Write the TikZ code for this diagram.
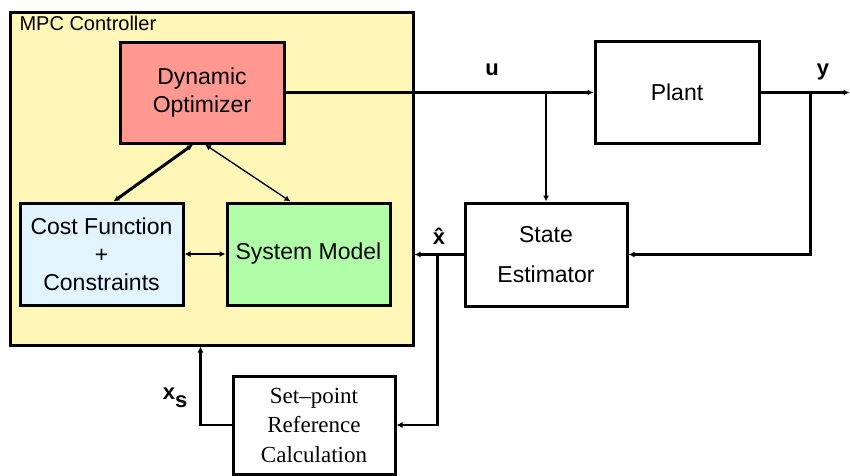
\documentclass[tikz,border=0pt]{standalone}
\usepackage{fontspec}
\setmainfont{Liberation Sans}
\newfontfamily\serifblock[Ligatures=TeX]{Liberation Serif}
\usetikzlibrary{arrows.meta,positioning,calc}
\definecolor{mpcYellow}{RGB}{255,247,184}
\definecolor{optRed}{RGB}{255,152,144}
\definecolor{costBlue}{RGB}{225,244,255}
\definecolor{modelGreen}{RGB}{176,255,168}

\begin{document}
\begin{tikzpicture}[x=1pt, y=-1pt,
    box/.style={rectangle, draw=black, line width=3pt, minimum width=163pt, minimum height=102pt, align=center, inner sep=0pt, font=\fontsize{23}{28}\selectfont},
    arrow/.style={-{Latex[length=6pt,width=6pt]}, line width=2.8pt},
    both/.style={{Latex[length=6pt,width=6pt]}-{Latex[length=6pt,width=6pt]}},
    sig/.style={font=\fontsize{22}{24}\selectfont\bfseries}
]
\useasboundingbox (0,0) rectangle (850,475);

% Controller and its blocks
\node[box, fill=mpcYellow, minimum width=403pt, minimum height=333pt] (mpc) at (211.5,178.5) {};
\node[anchor=base west, font=\fontsize{20}{22}\selectfont] (mpclabel) at (16,30) {MPC Controller};
\node[box, fill=optRed, minimum width=164pt, minimum height=101pt] (opt) at (202,92.5) {Dynamic\\Optimizer};
\node[box, fill=costBlue] (cost) at (101.5,254) {Cost Function\\+\\Constraints};
\node[box, fill=modelGreen] (model) at (308.5,254) {System Model};

% Plant, estimator, set-point
\node[box, minimum width=164pt] (plant) at (677,92.5) {Plant};
\node[box, minimum width=162pt, minimum height=103pt] (est) at (546,254.5) {State\\[12pt]Estimator};
\node[box, minimum width=162pt, minimum height=98pt, font=\serifblock\fontsize{23}{29.5}\selectfont] (setpt) at (314,425) {Set--point\\Reference\\Calculation};

\coordinate (uj) at (est.north |- opt.east);
\coordinate (yj) at ($(plant.east)+(50,0)$);
\coordinate (yout) at ($(plant.east)+(89,0)$);
\coordinate (xj) at ($(est.west)+(-26,0)$);
\coordinate (sj) at ($(setpt.west)+(-31,0)$);

% Signals
\draw[arrow] (opt.east) -- (opt.east -| plant.west);
\draw[arrow] (uj) -- (est.north);
\draw[arrow] (plant.east) -- (yout);
\draw[arrow] (yj) |- (est.east);
\draw[arrow] (est.west) -- (est.west -| mpc.east);
\draw[arrow] (xj) |- (setpt.east);
\draw[arrow] (setpt.west) -- (sj) -- (sj |- mpc.south);

% Inside the controller
\draw[both, line width=3pt] ([xshift=-9pt]opt.south) -- ([xshift=12pt]cost.north);
\draw[both, line width=1.3pt] ([xshift=3pt]opt.south) -- ([xshift=-18pt]model.north);
\draw[both, line width=1.8pt] (cost.east) -- (model.west);

\node[sig] (ulabel) at (492,70) {u};
\node[sig] (ylabel) at (823,72) {y};
\node[sig] (xhat) at (439,236) {\^{x}};
\node[sig] (xs) at (175,398) {x\raisebox{-8pt}{s}};
\end{tikzpicture}
\end{document}
